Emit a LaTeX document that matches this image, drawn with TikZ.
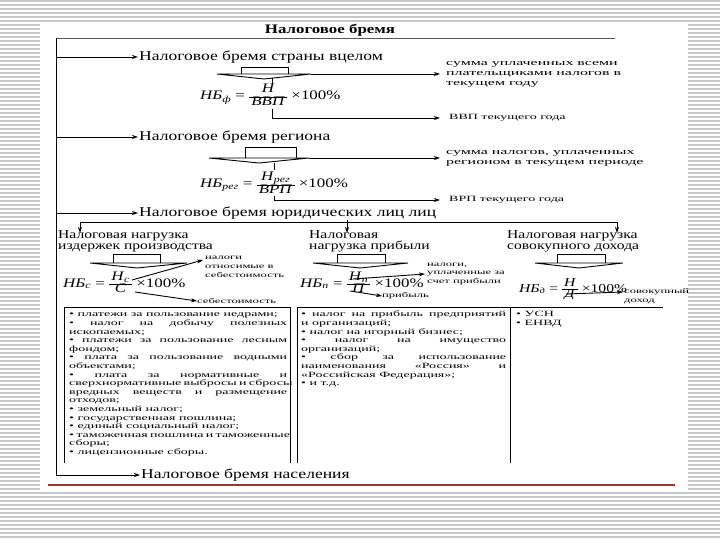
\documentclass[tikz,border=0pt]{standalone}
\usepackage{fontspec}
\setmainfont{Liberation Serif}[FakeStretch=1.3]
\newfontfamily\widefont{Liberation Serif}[FakeStretch=1.75]
\newfontfamily\widerfont{Liberation Serif}[FakeStretch=1.85]
\usetikzlibrary{arrows.meta}
\definecolor{rulered}{RGB}{150,55,45}
\setlength\arrayrulewidth{0.6pt}
\newcommand\fr[3][0.75]{{\renewcommand\arraystretch{#1}\begin{tabular}[c]{@{\,}c@{\,}}#2\\\hline #3\end{tabular}}}
\newcommand\jl[2]{\makebox[#1][s]{#2}}
\tikzset{
  ln/.style={line width=0.9pt, black},
  arr/.style={ln, -{Stealth[length=6pt,width=4pt]}},
  stripe/.style={line width=1.2pt, black!22},
  hd/.style={anchor=west, inner sep=1pt, font=\fontsize{13.5}{14}\selectfont},
  lab/.style={anchor=west, inner sep=0pt, align=left, font=\widerfont\fontsize{8.6}{10}\selectfont},
  labb/.style={anchor=west, inner sep=0pt, align=left, font=\widefont\fontsize{8}{10}\selectfont},
  clab/.style={anchor=west, inner sep=0pt, align=left, font=\widefont\fontsize{7.2}{8.8}\selectfont},
  colhd/.style={anchor=north west, inner sep=0pt, align=left, font=\fontsize{12}{11}\selectfont},
  frm/.style={anchor=west, inner sep=0pt, font=\fontsize{13}{13}\selectfont},
  boxtxt/.style={anchor=north west, inner sep=0pt, align=left, font=\widefont\fontsize{8}{8.6}\selectfont},
}
\begin{document}
\begin{tikzpicture}[x=1pt,y=-1pt]
\useasboundingbox (0,0) rectangle (720,540);
% slide background
\foreach \yy in {1,5,...,539} \draw[stripe] (0,\yy) -- (720,\yy);
\fill[white] (40,23) rectangle (688,492);

% title and main trunk
\node[anchor=south, inner sep=1pt, font=\bfseries\fontsize{13}{14}\selectfont] (title) at (330,37) {Налоговое бремя};
\coordinate (tl) at (56,38);
\coordinate (tr) at (615,38);
\coordinate (a1) at (56,57);
\coordinate (a2) at (56,137);
\coordinate (a3) at (56,213);
\coordinate (a4) at (56,475);
\draw[line width=0.8pt, black!65] (tl) -- (tr);
\draw[ln] (tl) -- (a4);

% ---- section 1
\node[hd] (h1) at (138,57) {Налоговое бремя страны вцелом};
\draw[arr] (a1) -- (h1.west);
\draw[ln] (241,74) |- (288,67) -- (288,74);
\draw[ln] (217,74) -- (311,74) -- (264,79) -- cycle;
\coordinate (r1) at (311,74);
\node[lab] (l1a) at (446,74) {сумма уплаченных всеми\\плательщиками налогов в\\текущем году};
\draw[arr] (r1) -- ([xshift=-6pt]l1a.west);
\draw[ln] (272,78) -- (272,85);
\node[frm] (f1) at (200,97) {\textit{НБ}\textsubscript{\textit{ф}} = \fr[0.95]{\textit{Н}}{\textit{ВВП}} ×100\%};
\coordinate (d1) at (272,109);
\node[labb] (l1b) at (449,118) {ВВП текущего года};
\draw[arr] (d1) |- ([xshift=-9pt]l1b.west);

% ---- section 2
\node[hd] (h2) at (138,137) {Налоговое бремя региона};
\draw[arr] (a2) -- (h2.west);
\draw[ln] (245,158) |- (296,147) -- (296,158);
\draw[ln] (209,158) -- (309,158) -- (259,163) -- cycle;
\coordinate (r2) at (309,158);
\node[lab] (l2a) at (446,158) {сумма налогов, уплаченных\\регионом в текущем периоде};
\draw[arr] (r2) -- ([xshift=-6pt]l2a.west);
\draw[ln] (274,163) -- (274,170);
\node[frm] (f2) at (200,185) {\textit{НБ}\textsubscript{\textit{рег}} = \fr[0.95]{\textit{Н}\textsubscript{\textit{рег}}}{\textit{ВРП}} ×100\%};
\coordinate (d2) at (274,196);
\node[labb] (l2b) at (449,200) {ВРП текущего года};
\draw[arr] (d2) |- ([xshift=-9pt]l2b.west);

% ---- section 3
\node[hd] (h3) at (138,213) {Налоговое бремя юридических лиц лиц};
\draw[arr] (a3) -- (h3.west);
\coordinate (b1) at (80,222);
\coordinate (b3) at (617,222);
\draw[ln] (b1) -- (b3);
\node[colhd] (c1) at (58,230) {Налоговая нагрузка\\издержек производства};
\node[colhd] (c2) at (309,230) {Налоговая\\нагрузка прибыли};
\node[colhd] (c3) at (507,230) {Налоговая нагрузка\\совокупного дохода};
\draw[arr] (b1) -- (80,233);
\draw[arr] (h3.south -| 347,0) -- (347,233);
\draw[arr] (b3) -- (617,233);

% column block arrows
\draw[ln] (113,263) |- (160,254) -- (160,263);
\draw[ln] (90,263) -- (187,263) -- (137,268) -- cycle;
\draw[ln] (337,263) |- (385,254) -- (385,263);
\draw[ln] (313,263) -- (408,263) -- (360,268) -- cycle;
\draw[ln] (557,263) |- (605,254) -- (605,263);
\draw[ln] (535,263) -- (623,263) -- (579,268) -- cycle;

% column formulas
\node[frm] (f3) at (63,284) {\textit{НБ}\textsubscript{\textit{с}} = \fr{\textit{Н}\textsubscript{\textit{с}}}{\textit{С}} ×100\%};
\node[clab] (l3a) at (205,267) {налоги\\относимые в\\себестоимость};
\node[clab] (l3b) at (197,301) {себестоимость};
\draw[arr] (132,280) -- ([xshift=-2pt,yshift=7pt]l3a.west);
\draw[arr] (135,292) -- (l3b.west);

\node[frm] (f4) at (300,284) {\textit{НБ}\textsubscript{\textit{п}} = \fr{\textit{Н}\textsubscript{\textit{п}}}{\textit{П}} ×100\%};
\node[clab] (l4a) at (427,274) {налоги,\\уплаченные за\\счет прибыли};
\node[clab] (l4b) at (382,296) {прибыль};
\draw[arr] (353,279) -- ([xshift=-2pt]l4a.west);
\draw[arr] (350,291) -- (l4b.west);

\node[frm, font=\fontsize{12}{12}\selectfont] (f5) at (519,289) {\textit{НБ}\textsubscript{\textit{д}} = \fr{\textit{Н}}{\textit{Д}} ×100\%};
\node[clab] (l5) at (624,296) {совокупный\\доход};
\draw[arr] (566,294) -- ([xshift=-1pt,yshift=4pt]l5.west);

% boxes
\draw[ln] (64,463) |- (290,307) -- (290,463);
\draw[ln] (297,463) |- (510,307) -- (510,463);
\draw[ln] (510,307) -- (663,307);
\node[boxtxt] (t1) at (69,313) {%
\textbullet{} платежи за пользование недрами;\\
\jl{218pt}{\textbullet{} налог на добычу полезных}\\
ископаемых;\\
\jl{218pt}{\textbullet{} платежи за пользование лесным}\\
фондом;\\
\jl{218pt}{\textbullet{} плата за пользование водными}\\
объектами;\\
\jl{218pt}{\textbullet{} плата за нормативные и}\\
\jl{218pt}{сверхнормативные выбросы и сбросы}\\
\jl{218pt}{вредных веществ и размещение}\\
отходов;\\
\textbullet{} земельный налог;\\
\textbullet{} государственная пошлина;\\
\textbullet{} единый социальный налог;\\
\jl{218pt}{\textbullet{} таможенная пошлина и таможенные}\\
сборы;\\
\textbullet{} лицензионные сборы.};
\node[boxtxt] (t2) at (301,311) {%
\jl{205pt}{\textbullet{} налог на прибыль предприятий}\\
и организаций;\\
\textbullet{} налог на игорный бизнес;\\
\jl{205pt}{\textbullet{} налог на имущество}\\
организаций;\\
\jl{205pt}{\textbullet{} сбор за использование}\\
\jl{205pt}{наименования «Россия» и}\\
«Российская Федерация»;\\
\textbullet{} и т.д.};
\node[boxtxt] (t3) at (516,311) {\textbullet{} УСН\\\textbullet{} ЕНВД};

% ---- population
\node[hd] (h4) at (140,475) {Налоговое бремя населения};
\draw[arr] (a4) -- (h4.west);

% slide rule
\coordinate (rl) at (48,485);
\coordinate (rr) at (675,485);
\draw[line width=1.5pt, rulered] (rl) -- (rr);
\end{tikzpicture}
\end{document}
